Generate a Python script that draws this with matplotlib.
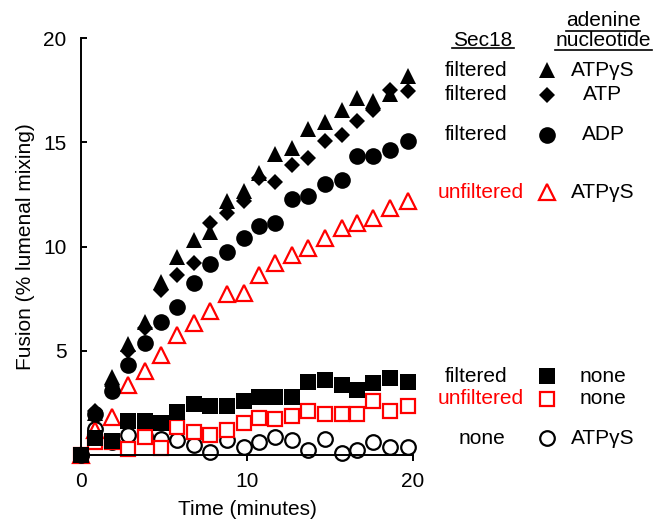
import matplotlib
matplotlib.use('Agg')
import matplotlib.pyplot as plt
from matplotlib.lines import Line2D

plt.rcParams['font.family'] = ['Liberation Sans', 'DejaVu Sans']
plt.rcParams['font.size'] = 15

# время (мин) и слияние (% lumenal mixing)
time = [0, 0.85, 1.85, 2.85, 3.85, 4.8, 5.8, 6.8, 7.8, 8.8, 9.8,
        10.75, 11.7, 12.7, 13.7, 14.7, 15.7, 16.6, 17.6, 18.6, 19.7]

filt_atpgs = [0, 2.0, 3.75, 5.3, 6.4, 8.3, 9.5, 10.3, 10.7, 12.16, 12.64,
              13.53, 14.46, 14.73, 15.64, 15.96, 16.57, 17.13, 16.97, 17.3, 18.17]
filt_atp = [0, 2.1, 3.3, 5.0, 6.1, 7.9, 8.64, 9.2, 11.15, 11.6, 12.16,
            13.29, 13.08, 13.93, 14.25, 15.05, 15.37, 16.0, 16.57, 17.5, 17.45]
filt_adp = [0, 1.99, 3.06, 4.31, 5.36, 6.4, 7.09, 8.24, 9.17, 9.76, 10.4,
            10.96, 11.12, 12.28, 12.4, 13.01, 13.2, 14.36, 14.36, 14.62, 15.05]
unfilt_atpgs = [0, 1.2, 1.8, 3.35, 4.04, 4.79, 5.75, 6.35, 6.92, 7.71, 7.76,
                8.64, 9.2, 9.6, 9.92, 10.4, 10.88, 11.12, 11.37, 11.85, 12.16]
filt_none = [0, 0.8, 0.67, 1.63, 1.63, 1.54, 2.07, 2.47, 2.34, 2.34, 2.6,
             2.79, 2.79, 2.79, 3.48, 3.6, 3.37, 3.14, 3.46, 3.67, 3.48]
unfilt_none = [0, 0.62, 0.6, 0.28, 0.86, 0.35, 1.32, 1.1, 0.98, 1.19, 1.52,
               1.77, 1.75, 1.88, 2.12, 1.99, 1.99, 1.99, 2.6, 2.12, 2.36]
none_atpgs = [0, 1.25, 0.6, 0.95, 0.9, 0.79, 0.71, 0.47, 0.15, 0.71, 0.37,
              0.63, 0.84, 0.74, 0.26, 0.79, 0.1, 0.26, 0.63, 0.38, 0.36]

W, H = 655, 519
fig = plt.figure(figsize=(W / 100, H / 100), dpi=100)
ax = fig.add_axes([81 / W, (H - 455) / H, (413 - 81) / W, (455 - 38) / H])


def px(x, y):
    return x / W, 1 - y / H


red = '#ff0000'
common = dict(linestyle='none', clip_on=False)

ax.plot(time, none_atpgs, marker='o', ms=10.5, mfc='white', mec='black', mew=1.6, **common)
ax.plot(time, unfilt_none, marker='s', ms=10.5, mfc='white', mec=red, mew=1.6, **common)
ax.plot(time, unfilt_atpgs, marker='^', ms=11, mfc='white', mec=red, mew=1.6, **common)
ax.plot(time, filt_adp, marker='o', ms=12, mfc='black', mec='black', mew=0, **common)
ax.plot(time, filt_atp, marker='D', ms=8, mfc='black', mec='black', mew=0, **common)
ax.plot(time, filt_atpgs, marker='^', ms=12, mfc='black', mec='black', mew=0, **common)
ax.plot(time, filt_none, marker='s', ms=11.5, mfc='black', mec='black', mew=0, **common)

ax.set_xlim(0, 20)
ax.set_ylim(0, 20)
ax.set_xticks([0, 10, 20])
ax.set_yticks([5, 10, 15, 20])
ax.spines['top'].set_visible(False)
ax.spines['right'].set_visible(False)
for s in ['left', 'bottom']:
    ax.spines[s].set_linewidth(1.4)
ax.tick_params(axis='y', direction='in', length=4, width=1.4, pad=10.5, labelsize=15)
ax.tick_params(axis='x', direction='out', length=4, width=1.4, pad=8, labelsize=15)
ax.set_xlabel('Time (minutes)', fontsize=15, labelpad=7)
ax.set_ylabel('Fusion (% lumenal mixing)', fontsize=15, labelpad=6)

# легенда в виде таблицы справа
fig.text(*px(483, 40), 'Sec18', ha='center', va='center', fontsize=15)
fig.text(*px(603, 21), 'adenine', ha='center', va='center', fontsize=15)
fig.text(*px(603, 40), 'nucleotide', ha='center', va='center', fontsize=15)
fig.add_artist(Line2D([452 / W, 514 / W], [1 - 48 / H, 1 - 48 / H], color='black', lw=1.2))
fig.add_artist(Line2D([566 / W, 640 / W], [1 - 30.5 / H, 1 - 30.5 / H], color='black', lw=1.2))
fig.add_artist(Line2D([555 / W, 652 / W], [1 - 49.5 / H, 1 - 49.5 / H], color='black', lw=1.2))

rows = [
    (70, 'filtered', 'black', 476, '^', 'black', 'black', 12, 'ATPγS'),
    (95, 'filtered', 'black', 476, 'D', 'black', 'black', 8, 'ATP'),
    (135, 'filtered', 'black', 476, 'o', 'black', 'black', 12, 'ADP'),
    (192, 'unfiltered', red, 481, '^', 'white', red, 11, 'ATPγS'),
    (376, 'filtered', 'black', 476, 's', 'black', 'black', 11.5, 'none'),
    (399, 'unfiltered', red, 481, 's', 'white', red, 10.5, 'none'),
    (438, 'none', 'black', 482, 'o', 'white', 'black', 10.5, 'ATPγS'),
]
for y, sec, col, xc, mk, fc, ec, ms, nuc in rows:
    fig.text(*px(xc, y), sec, ha='center', va='center', color=col, fontsize=15)
    mew = 0 if fc == 'black' else 1.6
    fig.add_artist(Line2D([547 / W], [1 - y / H], marker=mk, ms=ms, mfc=fc, mec=ec, mew=mew,
                          linestyle='none'))
    fig.text(*px(603, y), nuc, ha='center', va='center', fontsize=15)

fig.savefig('out.png', dpi=100)
